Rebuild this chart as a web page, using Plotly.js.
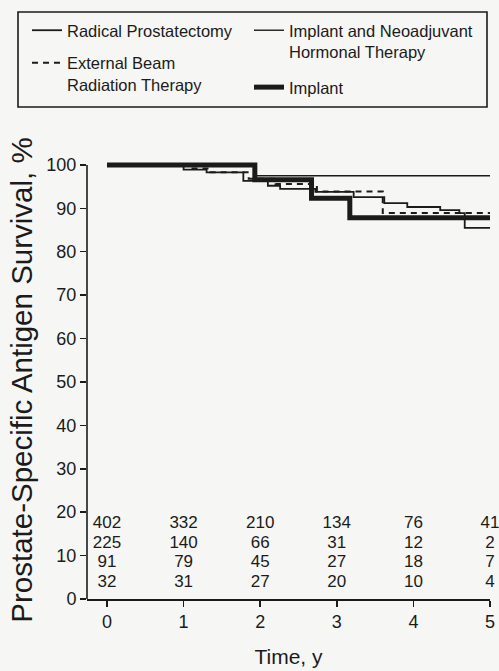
<!DOCTYPE html>
<html>
<head>
<meta charset="utf-8">
<script src="https://cdn.plot.ly/plotly-3.0.1.min.js"></script>
<style>
  html, body { margin: 0; padding: 0; background: #f6f6f4; }
  #chart { width: 499px; height: 671px; }
</style>
</head>
<body>
<div id="chart"></div>
<script>
// ---- Data ----
const seriesNames = [
  'Radical Prostatectomy',
  'External Beam<br>Radiation Therapy',
  'Implant and Neoadjuvant<br>Hormonal Therapy',
  'Implant'
];

// Kaplan-Meier step curves (time in years, PSA survival %)
const rpTime   = [0, 1.0, 1.3, 1.78, 2.1, 2.26, 2.72, 3.22, 3.62, 3.92, 4.35, 4.6, 4.67, 5];
const rpSurv   = [100, 98.9, 98.3, 96.3, 95.2, 94.5, 93.8, 92.6, 91.2, 90.3, 89.6, 88.9, 85.5, 85.5];

const ebrtTime = [0, 1.1, 1.35, 1.85, 2.2, 2.74, 3.6, 5];
const ebrtSurv = [100, 99.2, 98.3, 96.8, 95.6, 93.9, 88.9, 88.9];

const inhtTime = [0, 1.93, 5];
const inhtSurv = [100, 97.5, 97.5];

const impTime  = [0, 1.93, 2.67, 3.17, 5];
const impSurv  = [100, 96.6, 92.3, 87.8, 87.8];

// Numbers at risk (rows as printed, top to bottom)
const riskYears   = [0, 1, 2, 3, 4, 5];
const riskRP      = [402, 332, 210, 134, 76, 41];
const riskEBRT    = [225, 140, 66, 31, 12, 2];
const riskImplant = [91, 79, 45, 27, 18, 7];
const riskINHT    = [32, 31, 27, 20, 10, 4];

const yTicks = [0, 10, 20, 30, 40, 50, 60, 70, 80, 90, 100];
const xTicks = [0, 1, 2, 3, 4, 5];

// ---- Styling / layout ----
const ink = '#1b1b1b';
const bg = '#f6f6f4';
const W = 499, H = 671;
const plotL = 87, plotR = 490, plotT = 161, plotB = 599;
const yMax = 100.9;
const xMin = -0.261, xMax = 5.0;
const fam = 'Arial, Liberation Sans, sans-serif';

function px2paperX(px) { return (px - plotL) / (plotR - plotL); }
function px2paperY(py) { return (plotB - py) / (plotB - plotT); }

const lineFont = {family: fam, size: 16.5, color: ink};

const traces = [
  {x: rpTime, y: rpSurv, name: seriesNames[0], mode: 'lines',
   line: {shape: 'hv', color: ink, width: 1.8}, legend: 'legend', legendgroup: 'a'},
  {x: ebrtTime, y: ebrtSurv, name: seriesNames[1], mode: 'lines',
   line: {shape: 'hv', color: ink, width: 2, dash: '6px,5px'}, legend: 'legend', legendgroup: 'b'},
  {x: inhtTime, y: inhtSurv, name: seriesNames[2], mode: 'lines',
   line: {shape: 'hv', color: ink, width: 1.4}, legend: 'legend2', legendgroup: 'c'},
  {x: impTime, y: impSurv, name: seriesNames[3], mode: 'lines',
   line: {shape: 'hv', color: ink, width: 5}, legend: 'legend2', legendgroup: 'd'}
];

const riskRows = [riskRP, riskEBRT, riskImplant, riskINHT];
const riskRowY = [17.4, 12.8, 8.3, 3.7];
riskRows.forEach((row, i) => {
  traces.push({
    x: riskYears, y: riskYears.map(() => riskRowY[i]),
    text: row.map(String), mode: 'text', textposition: 'middle center',
    textfont: {family: fam, size: 17, color: ink},
    cliponaxis: false, showlegend: false, hoverinfo: 'skip'
  });
});

const layout = {
  width: W, height: H,
  paper_bgcolor: bg, plot_bgcolor: bg,
  margin: {l: plotL, r: W - plotR, t: plotT, b: H - plotB, pad: 0},
  showlegend: true,
  xaxis: {
    range: [xMin, xMax], tickvals: xTicks, ticktext: xTicks.map(String),
    showgrid: false, zeroline: false, showline: true, linecolor: ink, linewidth: 1.6,
    ticks: 'outside', ticklen: 6, tickwidth: 1.5, tickcolor: ink,
    tickfont: {family: fam, size: 18, color: ink},
    title: {text: 'Time, y', font: {family: fam, size: 21, color: ink}, standoff: 18},
    fixedrange: true
  },
  yaxis: {
    range: [0, yMax], tickvals: yTicks, ticktext: yTicks.map(String),
    showgrid: false, zeroline: false, showline: false,
    ticks: 'outside', ticklen: 6, tickwidth: 1.5, tickcolor: ink,
    tickfont: {family: fam, size: 18, color: ink},
    title: {text: 'Prostate-Specific Antigen Survival, %', font: {family: fam, size: 29.5, color: ink}, standoff: 5},
    fixedrange: true
  },
  legend: {
    x: px2paperX(27), xanchor: 'left', y: px2paperY(13), yanchor: 'top',
    orientation: 'v', valign: 'top', tracegroupgap: 8,
    bgcolor: 'rgba(0,0,0,0)', borderwidth: 0, font: lineFont
  },
  legend2: {
    x: px2paperX(249), xanchor: 'left', y: px2paperY(13), yanchor: 'top',
    orientation: 'v', valign: 'top', tracegroupgap: 11,
    bgcolor: 'rgba(0,0,0,0)', borderwidth: 0, font: lineFont
  },
  shapes: [
    // legend frame
    {type: 'rect', xref: 'paper', yref: 'paper',
     x0: px2paperX(18), x1: px2paperX(487), y0: px2paperY(107), y1: px2paperY(12),
     line: {color: ink, width: 1.6}, fillcolor: 'rgba(0,0,0,0)', layer: 'above'},
    // y axis line from 0 to 100
    {type: 'line', xref: 'paper', yref: 'y', x0: 0, x1: 0, y0: 0, y1: 100,
     line: {color: ink, width: 1.6}, layer: 'above'}
  ]
};

Plotly.newPlot('chart', traces, layout, {staticPlot: true, displayModeBar: false});
</script>
</body>
</html>
